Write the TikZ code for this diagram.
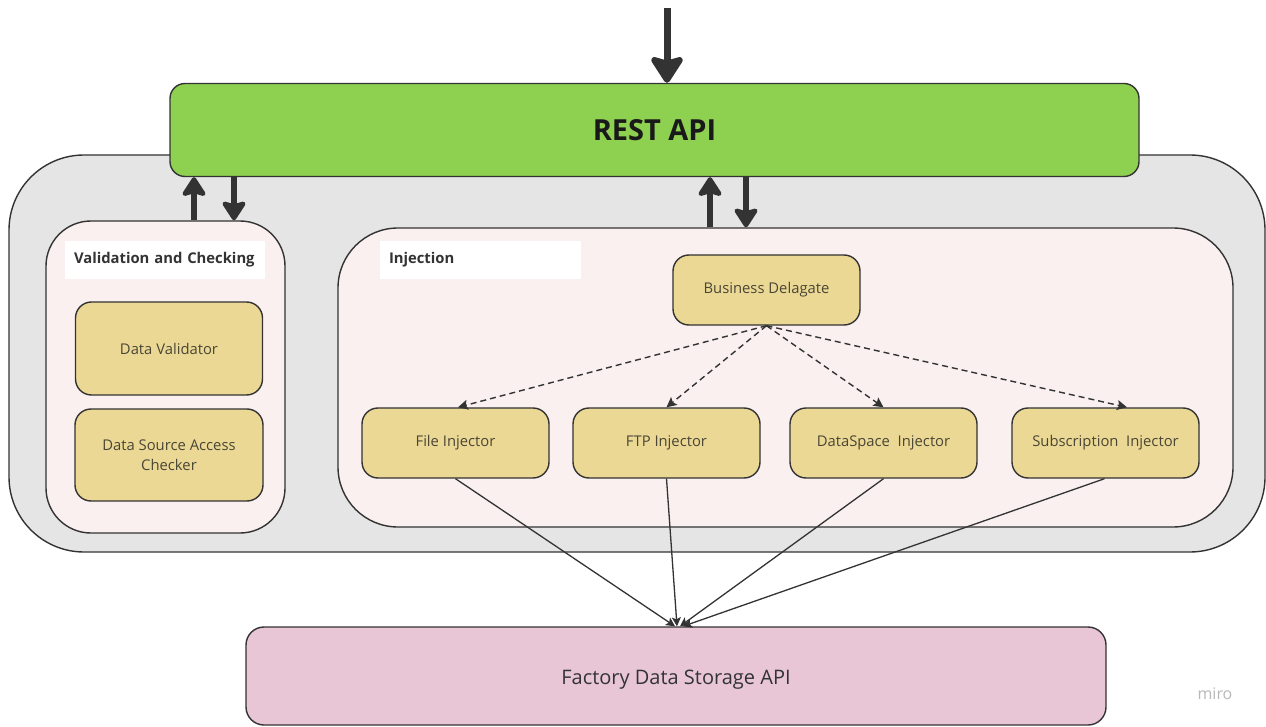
\documentclass[tikz,border=0pt]{standalone}
\usepackage{fontspec}
\setmainfont{Open Sans}
\usetikzlibrary{arrows.meta,calc}

\definecolor{restgreen}{HTML}{8ED04F}
\definecolor{shellgray}{HTML}{E5E5E5}
\definecolor{panelpink}{HTML}{FAF0F0}
\definecolor{compyellow}{HTML}{EBD894}
\definecolor{storepink}{HTML}{E8C6D6}
\definecolor{edge}{HTML}{333333}
\definecolor{comptext}{HTML}{4A4636}

\tikzset{
  box/.style={draw=edge, line width=1.4pt, rectangle, inner sep=0pt},
  comp/.style={box, fill=compyellow, rounded corners=16pt, minimum width=187pt,
    minimum height=70pt, text=comptext, font=\fontsize{14.8}{20}\selectfont, align=center},
  panel/.style={box, fill=panelpink},
  tagbox/.style={fill=white, rectangle, minimum height=38pt, inner ysep=0pt, inner xsep=9pt,
    align=left, text=edge, font=\bfseries\fontsize{14.8}{18}\selectfont},
  fatarrow/.style={draw=edge, line width=6pt, -{Stealth[length=22pt, width=28pt, inset=4pt, round]}},
  dasharrow/.style={draw=edge, line width=1.4pt, dash pattern=on 6pt off 4pt,
    -{Stealth[length=10pt, width=10pt, inset=2pt]}},
  feedarrow/.style={draw=edge, line width=1.3pt, -{Stealth[length=9pt, width=9pt, inset=2pt]}}
}

\begin{document}
\begin{tikzpicture}[x=1pt, y=-1pt]
  \useasboundingbox (0,0) rectangle (1266,727);

  % service shell
  \node[box, fill=shellgray, rounded corners=75pt, minimum width=1256pt, minimum height=397pt]
    (shell) at (637,353.5) {};

  % REST entry point
  \node[box, fill=restgreen, rounded corners=15pt, minimum width=969pt, minimum height=93pt,
    text=black!90, font=\bfseries\fontsize{29}{34}\selectfont] (rest) at (654.5,130) {REST API};

  % validation panel
  \node[panel, rounded corners=45pt, minimum width=239pt, minimum height=312pt] (val) at (165.5,377) {};
  \node[tagbox, text width=182pt] (valtag) at (165,260) {Validation and Checking};
  \node[comp, minimum height=93pt] (dv) at (169,348.5) {Data Validator};
  \node[comp, minimum height=92pt, minimum width=188pt] (dsac) at (169,455) {Data Source Access\\Checker};

  % injection panel
  \node[panel, rounded corners=60pt, minimum width=895pt, minimum height=299pt] (inj) at (785.5,377.5) {};
  \node[tagbox, text width=183pt] (injtag) at (480.5,260) {Injection};
  \node[comp] (bd) at (766.5,290) {Business Delagate};
  \node[comp] (fi) at (455.5,443) {File Injector};
  \node[comp] (ftp) at (666.5,443) {FTP Injector};
  \node[comp] (ds) at (883.5,443) {DataSpace~ Injector};
  \node[comp] (sub) at (1105.5,443) {Subscription~ Injector};

  % storage backend
  \node[box, fill=storepink, rounded corners=18pt, minimum width=860pt, minimum height=98pt]
    (fact) at (676,676) {};
  \node[text=edge, font=\fontsize{20}{24}\selectfont] (facttext) at (676,680) {Factory Data Storage API};

  % watermark
  \node[text=black!28, font=\fontsize{16}{19}\selectfont] (mark) at (1215,694) {miro};

  % incoming request
  \coordinate (src) at (667,8);
  \draw[draw=edge, line width=7pt, -{Stealth[length=30pt, width=38pt, inset=5pt, round]}]
    (src) -- (rest.north -| src);

  % REST <-> panels
  \coordinate (v1) at (194,0);
  \coordinate (v2) at (234,0);
  \coordinate (i1) at (710,0);
  \coordinate (i2) at (746,0);
  \draw[fatarrow] (val.north -| v1) -- (rest.south -| v1);
  \draw[fatarrow] (rest.south -| v2) -- (val.north -| v2);
  \draw[fatarrow] (inj.north -| i1) -- (rest.south -| i1);
  \draw[fatarrow] (rest.south -| i2) -- (inj.north -| i2);

  % delegate dispatch
  \draw[dasharrow] (bd.south) -- ($(fi.north)+(2.5,0)$);
  \draw[dasharrow] (bd.south) -- (ftp.north);
  \draw[dasharrow] (bd.south) -- (ds.north);
  \draw[dasharrow] (bd.south) -- ($(sub.north)+(21.5,0)$);

  % injectors write to storage
  \draw[feedarrow] (fi.south) -- ($(fact.north)+(-1,0)$);
  \draw[feedarrow] (ftp.south) -- ($(fact.north)+(1,0)$);
  \draw[feedarrow] (ds.south) -- ($(fact.north)+(4,0)$);
  \draw[feedarrow] ($(sub.south)+(-1,0)$) -- ($(fact.north)+(7,0)$);
\end{tikzpicture}
\end{document}
